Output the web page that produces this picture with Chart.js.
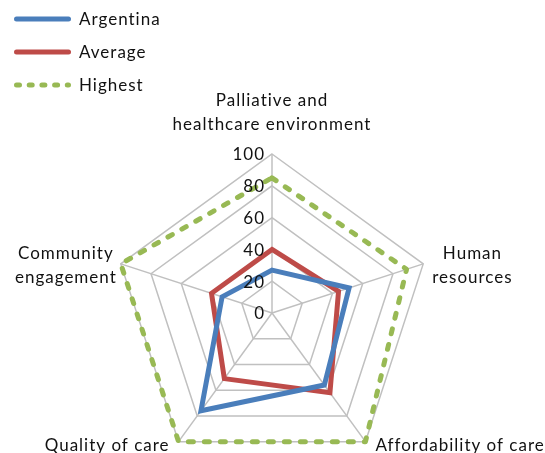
<!DOCTYPE html>
<html><head><meta charset="utf-8">
<script src="https://cdn.jsdelivr.net/npm/chart.js@4.4.1/dist/chart.umd.min.js"></script>
<style>
html,body{margin:0;padding:0;background:#fff;overflow:hidden;}
#wrap{position:relative;width:545px;height:453px;overflow:hidden;}
#c{position:absolute;left:0;top:0;}
#legend{position:absolute;left:14px;top:2px;font:17px Lato, sans-serif;letter-spacing:1px;color:#111;}
.item{display:flex;align-items:center;height:33px;}
.item svg{margin-right:8px;display:block;}
</style></head><body>
<div id="wrap"><canvas id="c" width="545" height="472"></canvas><div id="legend"></div></div>
<script>
const categories = [['Palliative and','healthcare environment'], ['Human','resources'], 'Affordability of care', 'Quality of care', ['Community','engagement']];
const seriesNames = ['Argentina', 'Average', 'Highest'];
const argentina = [27, 51, 56, 76, 33];
const average = [40, 44, 62, 51, 40];
const highest = [85, 89, 100, 100, 100];
const tickLabels = ['0', '20', '40', '60', '80', '100'];

const FONT = 'Lato, sans-serif';
const TEXT = '#111';

const overlay = {
  id: 'overlay',
  afterDatasetsDraw(chart) {
    const s = chart.scales.r, ctx = chart.ctx;
    ctx.save();
    ctx.font = '17px ' + FONT;
    ctx.letterSpacing = '1px';
    ctx.fillStyle = TEXT;
    ctx.textAlign = 'right';
    ctx.textBaseline = 'middle';
    s.ticks.forEach((t, i) => {
      const d = s.getDistanceFromCenterForValue(t.value);
      ctx.fillText(tickLabels[i] !== undefined ? tickLabels[i] : t.label, s.xCenter - 7, s.yCenter - d + 1);
    });
    ctx.restore();
  },
  afterDraw(chart) {
    const s = chart.scales.r, ctx = chart.ctx;
    ctx.save();
    ctx.font = '17px ' + FONT;
    ctx.letterSpacing = '1px';
    ctx.fillStyle = TEXT;
    ctx.textAlign = 'center';
    ctx.textBaseline = 'alphabetic';
    const lh = 24;
    chart.data.labels.forEach((lab, i) => {
      const lines = Array.isArray(lab) ? lab : [lab];
      const p = s.getPointPosition(i, s.drawingArea);
      const w = Math.max(...lines.map(l => ctx.measureText(l).width));
      const n = lines.length;
      if (Math.abs(p.x - s.xCenter) < 1) {
        lines.forEach((l, k) => ctx.fillText(l, p.x, p.y - 24 - (n - 1 - k) * lh));
      } else {
        const right = p.x > s.xCenter;
        const gap = n > 1 ? (right ? 9 : 4) : (right ? 10 : 9);
        const cx = right ? p.x + gap + w / 2 : p.x - gap - w / 2;
        const firstBase = p.y + 9 - (n - 1) * lh / 2 - (n > 1 ? 2 : 0);
        lines.forEach((l, k) => ctx.fillText(l, cx, firstBase + k * lh));
      }
    });
    ctx.restore();
  }
};

const chart = new Chart(document.getElementById('c'), {
  type: 'radar',
  data: {
    labels: categories,
    datasets: [
      { label: seriesNames[0], data: argentina, borderColor: '#4A7EBB', borderWidth: 5, fill: false, pointRadius: 0, borderJoinStyle: 'miter' },
      { label: seriesNames[1], data: average, borderColor: '#BE4B48', borderWidth: 5, fill: false, pointRadius: 0, borderJoinStyle: 'miter' },
      { label: seriesNames[2], data: highest, borderColor: '#98B954', borderWidth: 5, fill: false, pointRadius: 0, borderDash: [5, 11], borderCapStyle: 'round', borderJoinStyle: 'round' }
    ]
  },
  options: {
    responsive: false,
    animation: false,
    layout: { padding: { left: 113, right: 114, top: 154, bottom: 0 } },
    plugins: { legend: { display: false }, tooltip: { enabled: false } },
    elements: { line: { tension: 0 } },
    scales: {
      r: {
        min: 0, max: 100,
        ticks: { stepSize: 20, display: false, showLabelBackdrop: false },
        grid: { color: '#C0C0C0', lineWidth: 1.5, circular: false },
        angleLines: { color: '#C0C0C0', lineWidth: 1.5 },
        pointLabels: { display: false }
      }
    }
  },
  plugins: [overlay]
});

const legend = document.getElementById('legend');
chart.data.datasets.forEach(ds => {
  const item = document.createElement('div');
  item.className = 'item';
  const dash = ds.borderDash ? ' stroke-dasharray="3 9.7"' : '';
  item.innerHTML = '<svg width="57" height="10"><line x1="2.5" y1="5" x2="54.5" y2="5" stroke="' + ds.borderColor + '" stroke-width="5" stroke-linecap="round"' + dash + '/></svg><span>' + ds.label + '</span>';
  legend.appendChild(item);
});
</script>
</body></html>
